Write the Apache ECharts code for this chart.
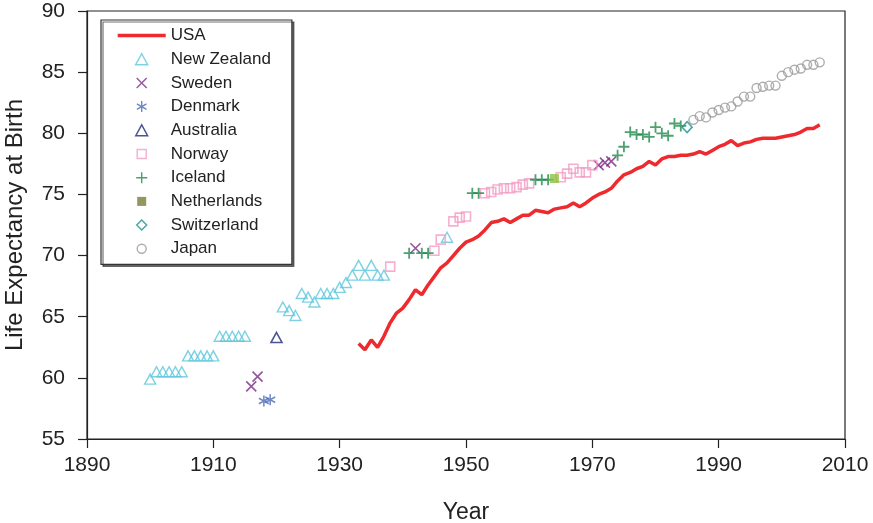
<!DOCTYPE html>
<html>
<head>
<meta charset="utf-8">
<script src="https://cdn.jsdelivr.net/npm/echarts@6/dist/echarts.min.js"></script>
<style>
html,body{margin:0;padding:0;background:#fff;}
#chart{width:873px;height:523px;}
</style>
</head>
<body>
<div id="chart"></div>
<script>
// ---- data ----
const usaYears = [1933,1934,1935,1936,1937,1938,1939,1940,1941,1942,1943,1944,1945,1946,1947,1948,1949,1950,1951,1952,1953,1954,1955,1956,1957,1958,1959,1960,1961,1962,1963,1964,1965,1966,1967,1968,1969,1970,1971,1972,1973,1974,1975,1976,1977,1978,1979,1980,1981,1982,1983,1984,1985,1986,1987,1988,1989,1990,1991,1992,1993,1994,1995,1996,1997,1998,1999,2000,2001,2002,2003,2004,2005,2006];
const usaValues = [62.8,62.3,63.1,62.5,63.4,64.5,65.3,65.7,66.4,67.2,66.8,67.6,68.3,69.0,69.4,70.0,70.6,71.1,71.3,71.6,72.1,72.7,72.8,73.0,72.7,73.0,73.3,73.3,73.7,73.6,73.5,73.8,73.9,74.0,74.3,74.0,74.3,74.7,75.0,75.2,75.5,76.1,76.6,76.8,77.1,77.3,77.7,77.4,77.9,78.1,78.1,78.2,78.2,78.3,78.5,78.3,78.6,78.9,79.1,79.4,79.0,79.2,79.3,79.5,79.6,79.6,79.6,79.7,79.8,79.9,80.1,80.4,80.4,80.7];

const nzYears = [1900,1901,1902,1903,1904,1905,1906,1907,1908,1909,1910,1911,1912,1913,1914,1915,1921,1922,1923,1924,1925,1926,1927,1928,1929,1930,1931,1932,1933,1934,1935,1936,1937,1947];
const nzValues = [59.9,60.5,60.5,60.5,60.5,60.5,61.8,61.8,61.8,61.8,61.8,63.4,63.4,63.4,63.4,63.4,65.8,65.5,65.1,66.9,66.6,66.2,66.9,66.9,66.9,67.4,67.8,68.4,69.2,68.4,69.2,68.4,68.4,71.5];

const swedenYears = [1916,1917,1942,1971,1972,1973];
const swedenValues = [59.3,60.1,70.6,77.4,77.6,77.7];

const denmarkYears = [1918,1919];
const denmarkValues = [58.1,58.2];

const australiaYears = [1920];
const australiaValues = [63.3];

const norwayYears = [1938,1945,1946,1948,1949,1950,1953,1954,1955,1956,1957,1958,1959,1960,1965,1966,1967,1968,1969,1970];
const norwayValues = [69.1,70.4,71.3,72.8,73.1,73.2,75.1,75.2,75.4,75.5,75.5,75.6,75.8,75.9,76.4,76.7,77.1,76.8,76.8,77.4];

const icelandYears = [1941,1943,1944,1951,1952,1961,1962,1963,1974,1975,1976,1977,1978,1979,1980,1981,1982,1983,1984];
const icelandValues = [70.2,70.2,70.2,75.1,75.1,76.2,76.2,76.2,78.2,78.9,80.1,79.9,79.9,79.7,80.5,80.0,79.8,80.8,80.6];

const netherlandsYears = [1964];
const netherlandsValues = [76.3];

const switzerlandYears = [1985];
const switzerlandValues = [80.5];

const japanYears = [1986,1987,1988,1989,1990,1991,1992,1993,1994,1995,1996,1997,1998,1999,2000,2001,2002,2003,2004,2005,2006];
const japanValues = [81.1,81.4,81.3,81.7,81.9,82.1,82.2,82.6,83.0,83.0,83.7,83.8,83.9,83.9,84.7,85.0,85.2,85.3,85.6,85.6,85.8];

const xTicks = [1890,1910,1930,1950,1970,1990,2010];
const yTicks = [55,60,65,70,75,80,85,90];
const legendNames = ['USA','New Zealand','Sweden','Denmark','Australia','Norway','Iceland','Netherlands','Switzerland','Japan'];

// ---- chart ----
const FONT = "'Liberation Sans', Arial, Helvetica, sans-serif";
const pair = (xs, ys) => xs.map((x, i) => [x, ys[i]]);
const markerPlus = 'path://M5,0L5,10M0,5L10,5';
const markerX = 'path://M0,0L10,10M10,0L0,10';
const markerStar = 'path://M5,0L5,10M0.67,2.5L9.33,7.5M0.67,7.5L9.33,2.5';

// legend icons: 48x12 box (corner move-tos fix the box), glyph centred
const BOX = 'M0,0M48,12';
const legendIcons = {
  'USA': 'path://' + BOX + 'M0,4.25L48,4.25L48,7.75L0,7.75Z',
  'New Zealand': 'path://' + BOX + 'M18,11.5L24,0.5L30,11.5Z',
  'Sweden': 'path://' + BOX + 'M19,1L29,11M29,1L19,11',
  'Denmark': 'path://' + BOX + 'M24,0.5L24,11.5M19.2,3.25L28.8,8.75M19.2,8.75L28.8,3.25',
  'Australia': 'path://' + BOX + 'M18,11.5L24,0.5L30,11.5Z',
  'Norway': 'path://' + BOX + 'M19.5,1.5L28.5,1.5L28.5,10.5L19.5,10.5Z',
  'Iceland': 'path://' + BOX + 'M24,0.5L24,11.5M18.5,6L29.5,6',
  'Netherlands': 'path://' + BOX + 'M19.5,1.5L28.5,1.5L28.5,10.5L19.5,10.5Z',
  'Switzerland': 'path://' + BOX + 'M24,1L29,6L24,11L19,6Z',
  'Japan': 'path://' + BOX + 'M28.5,6A4.5,4.5,0,1,1,19.5,6A4.5,4.5,0,1,1,28.5,6Z'
};

function hollow(name, xs, ys, symbol, size, color, bw) {
  return {
    name, type: 'scatter', data: pair(xs, ys), symbol, symbolSize: size,
    itemStyle: { color: 'rgba(0,0,0,0)', borderColor: color, borderWidth: bw || 1.4 },
    emphasis: { disabled: true }, z: 3
  };
}

const chart = echarts.init(document.getElementById('chart'), null, { renderer: 'canvas' });
chart.setOption({
  animation: false,
  backgroundColor: '#fff',
  textStyle: { fontFamily: FONT },
  grid: { left: 87, right: 28, top: 11, bottom: 84, show: true, borderColor: '#222', borderWidth: 1.2, backgroundColor: 'transparent', outerBoundsMode: 'none', containLabel: false },
  xAxis: {
    type: 'value', min: xTicks[0], max: xTicks[xTicks.length - 1], interval: 20,
    name: 'Year', nameLocation: 'middle', nameGap: 62,
    nameTextStyle: { fontSize: 23, color: '#222', fontFamily: FONT },
    axisLine: { show: true, lineStyle: { color: '#222', width: 1.2 } },
    axisTick: { show: true, length: 9, lineStyle: { color: '#222', width: 1.2 } },
    axisLabel: { fontSize: 21, color: '#222', margin: 16, fontFamily: FONT, formatter: v => String(v) },
    splitLine: { show: false }
  },
  yAxis: {
    type: 'value', min: yTicks[0], max: yTicks[yTicks.length - 1], interval: 5,
    name: 'Life Expectancy at Birth', nameLocation: 'middle', nameGap: 60, nameRotate: 90,
    nameTextStyle: { fontSize: 24, color: '#222', fontFamily: FONT },
    axisLine: { show: true, lineStyle: { color: '#222', width: 1.2 } },
    axisTick: { show: true, length: 9, lineStyle: { color: '#222', width: 1.2 } },
    axisLabel: { fontSize: 21, color: '#222', margin: 22, fontFamily: FONT, formatter: v => String(v) },
    splitLine: { show: false }
  },
  legend: {
    orient: 'vertical', left: 101, top: 20,
    padding: [7, 21, 7, 16],
    itemWidth: 48, itemHeight: 12, itemGap: 6.7,
    symbolKeepAspect: false,
    backgroundColor: '#fff', borderColor: '#333', borderWidth: 1.2,
    shadowColor: 'rgba(0,0,0,0.55)', shadowBlur: 0, shadowOffsetX: 2, shadowOffsetY: 2,
    textStyle: { fontSize: 17, color: '#222', fontFamily: FONT },
    itemStyle: { borderWidth: 1.4 },
    selectedMode: false,
    data: legendNames.map(n => {
      if (n === 'USA') return { name: n, icon: legendIcons[n], itemStyle: { color: '#ee2a2e', borderWidth: 0 } };
      if (n === 'Netherlands') return { name: n, icon: legendIcons[n], itemStyle: { color: '#7b7a36', borderColor: '#7b7a36', borderWidth: 0 } };
      return { name: n, icon: legendIcons[n] };
    })
  },
  series: [
    {
      name: 'USA', type: 'line', data: pair(usaYears, usaValues),
      showSymbol: false, symbol: 'none', smooth: false,
      lineStyle: { color: '#ee2a2e', width: 3.5 }, itemStyle: { color: '#ee2a2e' },
      emphasis: { disabled: true }, z: 4
    },
    hollow('New Zealand', nzYears, nzValues, 'triangle', [11, 10], '#5ec7dc'),
    hollow('Sweden', swedenYears, swedenValues, markerX, 10, '#7a2a85', 1.6),
    hollow('Denmark', denmarkYears, denmarkValues, markerStar, [10, 11], '#4a6ab8', 1.6),
    hollow('Australia', australiaYears, australiaValues, 'triangle', [11, 10], '#1f2a78', 1.6),
    hollow('Norway', norwayYears, norwayValues, 'rect', 9, '#f29cc4', 1.6),
    hollow('Iceland', icelandYears, icelandValues, markerPlus, 11, '#1e8a4c', 1.8),
    {
      name: 'Netherlands', type: 'scatter', data: pair(netherlandsYears, netherlandsValues),
      symbol: 'rect', symbolSize: 9,
      itemStyle: { color: '#8fc23f', borderColor: '#8fc23f', borderWidth: 0 },
      emphasis: { disabled: true }, z: 3
    },
    hollow('Switzerland', switzerlandYears, switzerlandValues, 'diamond', [10, 11], '#17908e', 1.6),
    hollow('Japan', japanYears, japanValues, 'circle', 9, '#9a9a9a')
  ]
});
</script>
</body>
</html>
